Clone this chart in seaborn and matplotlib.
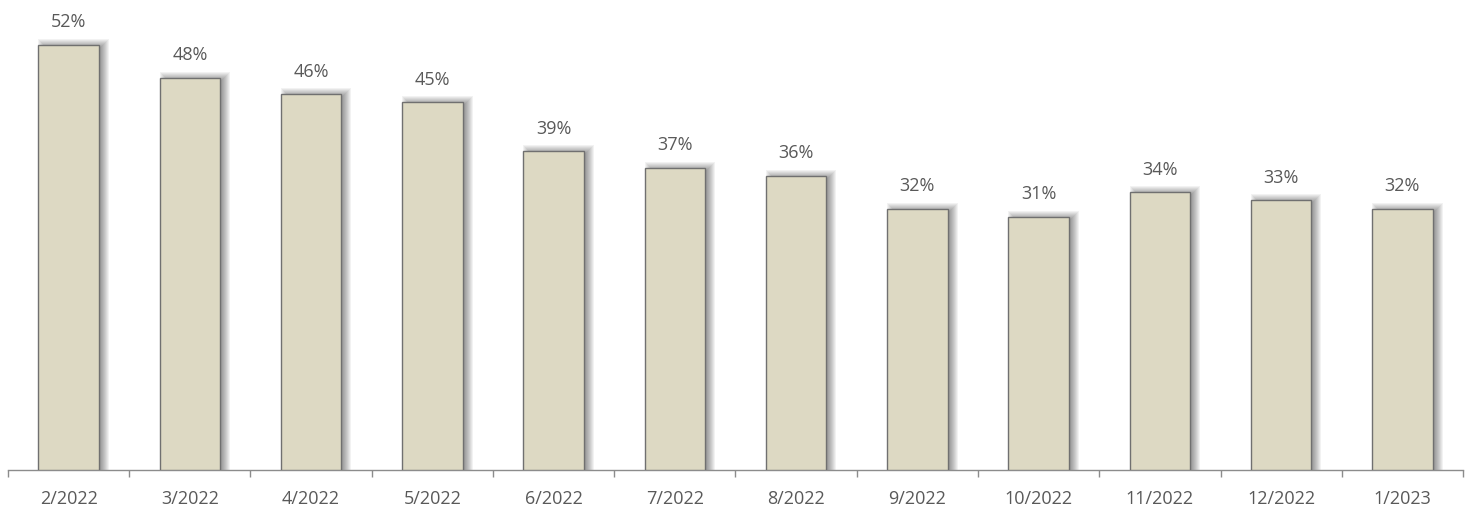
import matplotlib
matplotlib.use("Agg")
import matplotlib.pyplot as plt
import seaborn as sns
import numpy as np
import pandas as pd
from matplotlib.patches import Rectangle

months = ["2/2022", "3/2022", "4/2022", "5/2022", "6/2022", "7/2022",
          "8/2022", "9/2022", "10/2022", "11/2022", "12/2022", "1/2023"]
shares = [52, 48, 46, 45, 39, 37, 36, 32, 31, 34, 33, 32]

sns.set_theme(style="white")
plt.rcParams["font.family"] = ["Open Sans", "DejaVu Sans"]

BAR = "#DDD9C3"
EDGE = "#707070"
TEXT = "#595959"
AXIS = "#8C8C8C"

fig = plt.figure(figsize=(14.72, 5.10), dpi=100)
ax = fig.add_axes([0.0054, 0.0765, 0.9885, 0.897])

df = pd.DataFrame({"month": months, "share": shares})
sns.barplot(data=df, x="month", y="share", color=BAR, saturation=1,
            width=0.5, edgecolor=EDGE, linewidth=1.0, ax=ax, zorder=3)

ax.set_xlim(-0.5, len(months) - 0.5)
ax.set_ylim(0, 56)
fig.canvas.draw()

# pixel -> data conversion for a soft drop shadow
px_x = (ax.get_xlim()[1] - ax.get_xlim()[0]) / (ax.get_window_extent().width)
px_y = (ax.get_ylim()[1] - ax.get_ylim()[0]) / (ax.get_window_extent().height)

shift = 5.0
for p in ax.patches[:len(shares)]:
    x0, w = p.get_x(), p.get_width()
    h = p.get_height()
    for g in range(-5, 6):
        ax.add_patch(Rectangle((x0 + (shift - g) * px_x, 0),
                               w + 2 * g * px_x,
                               h + (g + 1) * px_y,
                               facecolor="black", edgecolor="none",
                               alpha=0.05, zorder=2))
    ax.text(x0 + w / 2, h + 1.8, f"{h:.0f}%", ha="center", va="bottom",
            fontsize=13, color=TEXT, zorder=4)

for side in ["left", "right", "top"]:
    ax.spines[side].set_visible(False)
ax.spines["bottom"].set_color(AXIS)
ax.spines["bottom"].set_linewidth(1.0)
ax.set_yticks([])
ax.set_xlabel("")
ax.set_ylabel("")

ax.set_xticks(np.arange(len(months)))
ax.set_xticklabels(months)
ax.set_xticks(np.arange(len(months) + 1) - 0.5, minor=True)
ax.tick_params(axis="x", which="major", length=0, pad=14, labelsize=13,
               labelcolor=TEXT)
ax.tick_params(axis="x", which="minor", length=5, width=1.0, color=AXIS,
               direction="out", bottom=True)

fig.savefig("out.png", dpi=100)
